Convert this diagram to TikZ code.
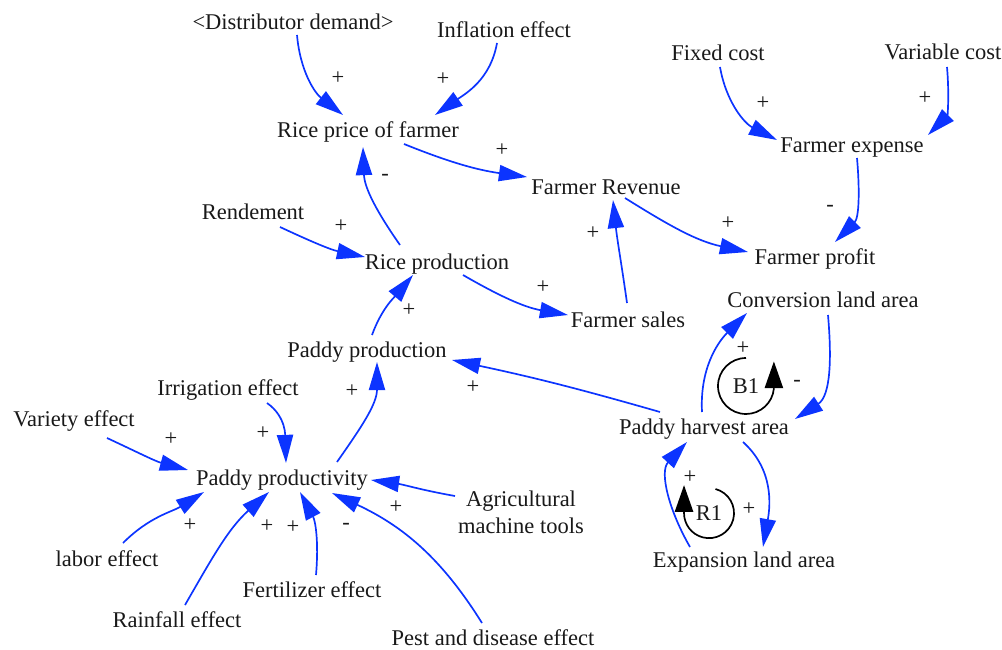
\documentclass[tikz,border=0pt]{standalone}
\usepackage{fontspec}
\setmainfont{Liberation Serif}
\usetikzlibrary{arrows.meta,calc}
\definecolor{linkblue}{RGB}{12,52,255}

\begin{document}
\begin{tikzpicture}[x=0.025cm,y=0.025cm,
  every node/.style={font=\fontsize{16}{19}\selectfont,text=black!90,inner sep=0pt},
  vname/.style={text height=14pt,text depth=3pt},
  lnk/.style={linkblue,line width=1.2pt,-{Triangle[length=20pt,width=11.5pt]}},
  loopline/.style={black,line width=1.2pt,-{Triangle[length=19pt,width=13pt]}}]
  \useasboundingbox (0,0) rectangle (1002,-650);

  \node[vname] (dd) at (293,-22) {<Distributor demand>};
  \node[vname] (inf) at (504,-30) {Inflation effect};
  \node[vname] (rpf) at (368,-130) {Rice price of farmer};
  \node[vname] (fc) at (718,-53) {Fixed cost};
  \node[vname] (vc) at (943,-52) {Variable cost};
  \node[vname] (fe) at (852,-145) {Farmer expense};
  \node[vname] (frev) at (606,-187) {Farmer Revenue};
  \node[vname] (fp) at (815,-257) {Farmer profit};
  \node[vname] (rend) at (253,-212) {Rendement};
  \node[vname] (rp) at (437,-262) {Rice production};
  \node[vname] (fs) at (628,-320) {Farmer sales};
  \node[vname] (cla) at (823,-300) {Conversion land area};
  \node[vname] (pp) at (367,-350) {Paddy production};
  \node[vname] (irr) at (228,-388) {Irrigation effect};
  \node[vname] (vari) at (74,-419) {Variety effect};
  \node[vname] (ppy) at (282,-478) {Paddy productivity};
  \node[vname] (pha) at (704,-427) {Paddy harvest area};
  \node[align=center] (amt) at (521,-512) {Agricultural\\machine tools};
  \node[vname] (lab) at (107,-559) {labor effect};
  \node[vname] (fert) at (312,-590) {Fertilizer effect};
  \node[vname] (rain) at (177,-620) {Rainfall effect};
  \node[vname] (pest) at (493,-638) {Pest and disease effect};
  \node[vname] (ela) at (744,-560) {Expansion land area};
  \node[vname] (b1) at (746,-386) {B1};
  \node[vname] (r1) at (709,-513) {R1};

  \draw[lnk] ($(dd)+(4,-13)$) to[out=-85,in=142] ($(rpf)+(-25,15)$);
  \draw[lnk] ($(inf)+(-7,-13)$) to[out=-100,in=35] ($(rpf)+(67,15)$);
  \draw[lnk] ($(rpf)+(36,-14)$) to[out=-22,in=172] ($(frev)+(-79,10)$);
  \draw[lnk] ($(rp)+(-37,17)$) to[out=125,in=-88] ($(rpf)+(-5,-17)$);
  \draw[lnk] ($(fc)+(2,-14)$) to[out=-80,in=153] ($(fe)+(-75,5)$);
  \draw[lnk] ($(vc)+(4,-15)$) to[out=-85,in=45] ($(fe)+(76,10)$);
  \draw[lnk] ($(fe)+(5,-13)$) to[out=-85,in=45] ($(fp)+(20,15)$);
  \draw[lnk] ($(frev)+(19,-11)$) to[out=-32,in=168] ($(fp)+(-67,5)$);
  \draw[lnk] ($(fs)+(-1,17)$) to[out=98,in=-84] ($(frev)+(7,-13)$);
  \draw[lnk] ($(rend)+(27,-15)$) to[out=-25,in=168] ($(rp)+(-72,5)$);
  \draw[lnk] ($(rp)+(26,-13)$) to[out=-30,in=170] ($(fs)+(-60,5)$);
  \draw[lnk] ($(pp)+(5,15)$) to[out=70,in=-130] ($(rp)+(-24,-13)$);
  \draw[lnk] ($(pha)+(-44,15)$) to[out=164,in=-12] ($(pp)+(85,-10)$);
  \draw[lnk] ($(ppy)+(55,16)$) to[out=55,in=-90] ($(pp)+(10,-12)$);
  \draw[lnk] ($(irr)+(39,-15)$) to[out=-35,in=92] ($(ppy)+(4,15)$);
  \draw[lnk] ($(vari)+(33,-19)$) to[out=-25,in=165] ($(ppy)+(-94,8)$);
  \draw[lnk] ($(lab)+(16,16)$) to[out=45,in=-148] ($(ppy)+(-78,-14)$);
  \draw[lnk] ($(rain)+(8,15)$) to[out=60,in=-138] ($(ppy)+(-13,-14)$);
  \draw[lnk] ($(fert)+(4,15)$) to[out=85,in=-62] ($(ppy)+(18,-14)$);
  \draw[lnk] ($(pest)+(-11,15)$) to[out=122,in=-25] ($(ppy)+(50,-15)$);
  \draw[lnk] ($(amt)+(-66,16)$) to[out=170,in=-8] ($(ppy)+(89,-2)$);
  \draw[lnk] ($(pha)+(-2,15)$) to[out=93,in=-135] ($(cla)+(-76,-13)$);
  \draw[lnk] ($(cla)+(5,-15)$) to[out=-85,in=33] ($(pha)+(91,8)$);
  \draw[lnk] ($(pha)+(39,-15)$) to[out=-42,in=80] ($(ela)+(19,13)$);
  \draw[lnk] ($(ela)+(-54,13)$) to[out=120,in=-133] ($(pha)+(-17,-15)$);

  \draw[loopline] ($(b1)+(0,28)$) arc[start angle=90,end angle=355,radius=28] -- ++(0,27);
  \draw[loopline] ($(r1)+(6.5,24)$) arc[start angle=75,end angle=-180,radius=25] -- ++(0,28);

  \foreach \x/\y/\s [count=\i] in {338/78/+,443/79/+,502/150/+,385/177/-,763/103/+,
      925/98/+,830/208/-,728/223/+,593/233/+,341/226/+,543/287/+,409/310/+,473/387/+,
      352/391/+,263/433/+,171/439/+,190/525/+,267/526/+,293/527/+,346/526/-,396/507/+,
      743/348/+,797/383/-,690/477/+,749/509/+}
    \node (pol\i) at (\x,-\y) {\s};
\end{tikzpicture}
\end{document}
